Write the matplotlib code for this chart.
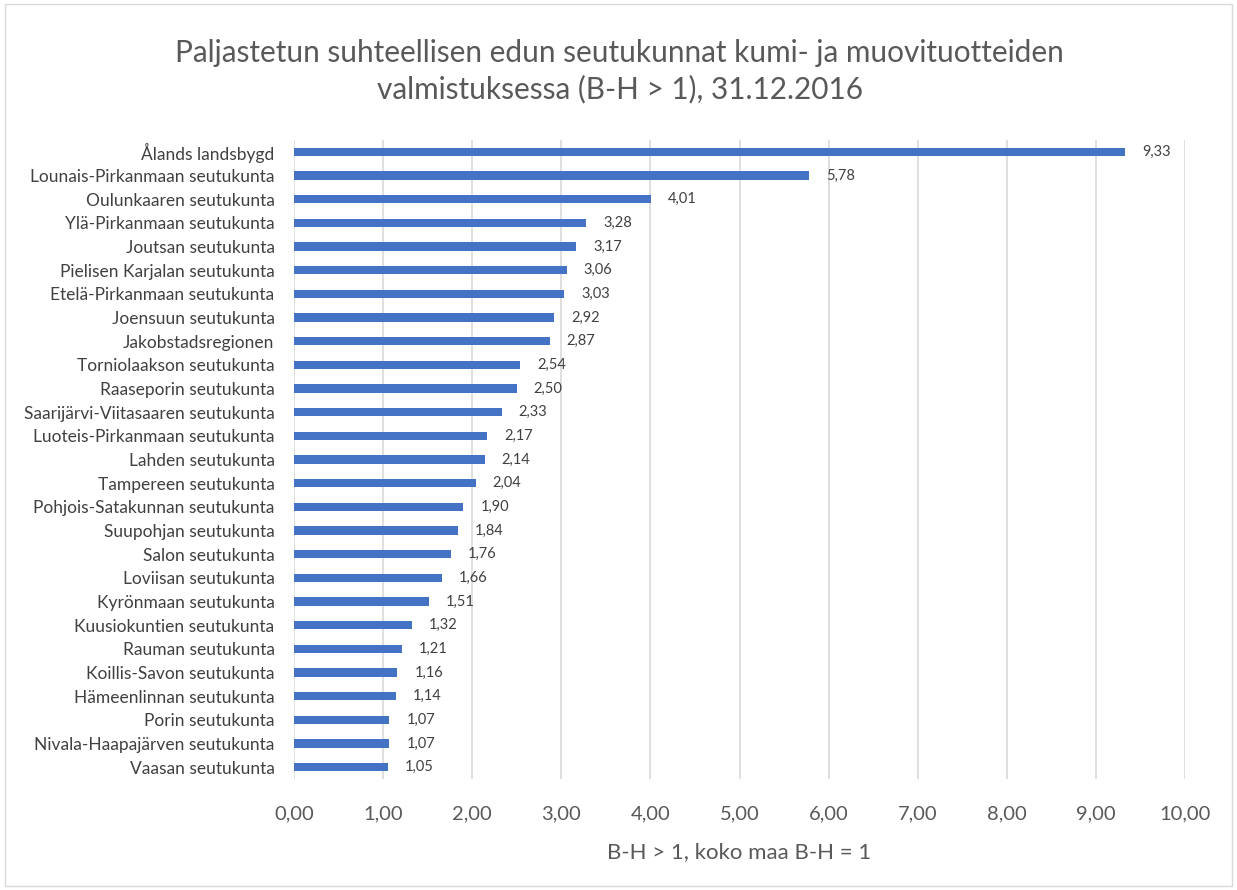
import matplotlib
matplotlib.use("Agg")
import matplotlib.pyplot as plt

regions = [
    "Ålands landsbygd", "Lounais-Pirkanmaan seutukunta", "Oulunkaaren seutukunta",
    "Ylä-Pirkanmaan seutukunta", "Joutsan seutukunta", "Pielisen Karjalan seutukunta",
    "Etelä-Pirkanmaan seutukunta", "Joensuun seutukunta", "Jakobstadsregionen",
    "Torniolaakson seutukunta", "Raaseporin seutukunta", "Saarijärvi-Viitasaaren seutukunta",
    "Luoteis-Pirkanmaan seutukunta", "Lahden seutukunta", "Tampereen seutukunta",
    "Pohjois-Satakunnan seutukunta", "Suupohjan seutukunta", "Salon seutukunta",
    "Loviisan seutukunta", "Kyrönmaan seutukunta", "Kuusiokuntien seutukunta",
    "Rauman seutukunta", "Koillis-Savon seutukunta", "Hämeenlinnan seutukunta",
    "Porin seutukunta", "Nivala-Haapajärven seutukunta", "Vaasan seutukunta",
]
values = [9.33, 5.78, 4.01, 3.28, 3.17, 3.06, 3.03, 2.92, 2.87, 2.54, 2.50, 2.33,
          2.17, 2.14, 2.04, 1.90, 1.84, 1.76, 1.66, 1.51, 1.32, 1.21, 1.16, 1.14,
          1.07, 1.07, 1.05]
x_ticks = [0, 1, 2, 3, 4, 5, 6, 7, 8, 9, 10]

plt.rcParams["font.family"] = ["Lato", "DejaVu Sans"]

fig = plt.figure(figsize=(12.37, 8.90), dpi=100)
ax = fig.add_axes([0.2377, 0.1247, 0.7203, 0.718])

ypos = list(range(len(values)))
ax.barh(ypos, values, height=0.35, color="#4472C4", zorder=3)
for y, v in zip(ypos, values):
    ax.text(v + 0.19, y, f"{v:.2f}".replace(".", ","), va="center", ha="left",
            fontsize=10.5, color="#404040")

ax.set_xlim(0, 10)
ax.set_ylim(len(values) - 0.5, -0.5)
ax.set_xticks(x_ticks)
ax.set_xticklabels([f"{t:.2f}".replace(".", ",") for t in x_ticks], fontsize=14.5, color="#595959")
ax.set_yticks(ypos)
ax.set_yticklabels(regions, fontsize=12.5, color="#404040")
ax.tick_params(axis="both", length=0)
ax.tick_params(axis="x", pad=19)
ax.tick_params(axis="y", pad=14)
ax.grid(axis="x", color="#d9d9d9", linewidth=1.2, zorder=0)
for s in ax.spines.values():
    s.set_visible(False)

ax.set_xlabel("B-H > 1, koko maa B-H = 1", fontsize=16, color="#595959", labelpad=14)

fig.text(0.501, 0.92, "Paljastetun suhteellisen edun seutukunnat kumi- ja muovituotteiden\n"
         "valmistuksessa (B-H > 1), 31.12.2016", ha="center", va="center",
         fontsize=21.4, color="#595959", linespacing=1.35)

border = plt.Rectangle((0.004, 0.004), 0.992, 0.992, transform=fig.transFigure,
                       fill=False, edgecolor="#d9d9d9", linewidth=1)
fig.patches.append(border)

fig.savefig("out.png", dpi=100)
